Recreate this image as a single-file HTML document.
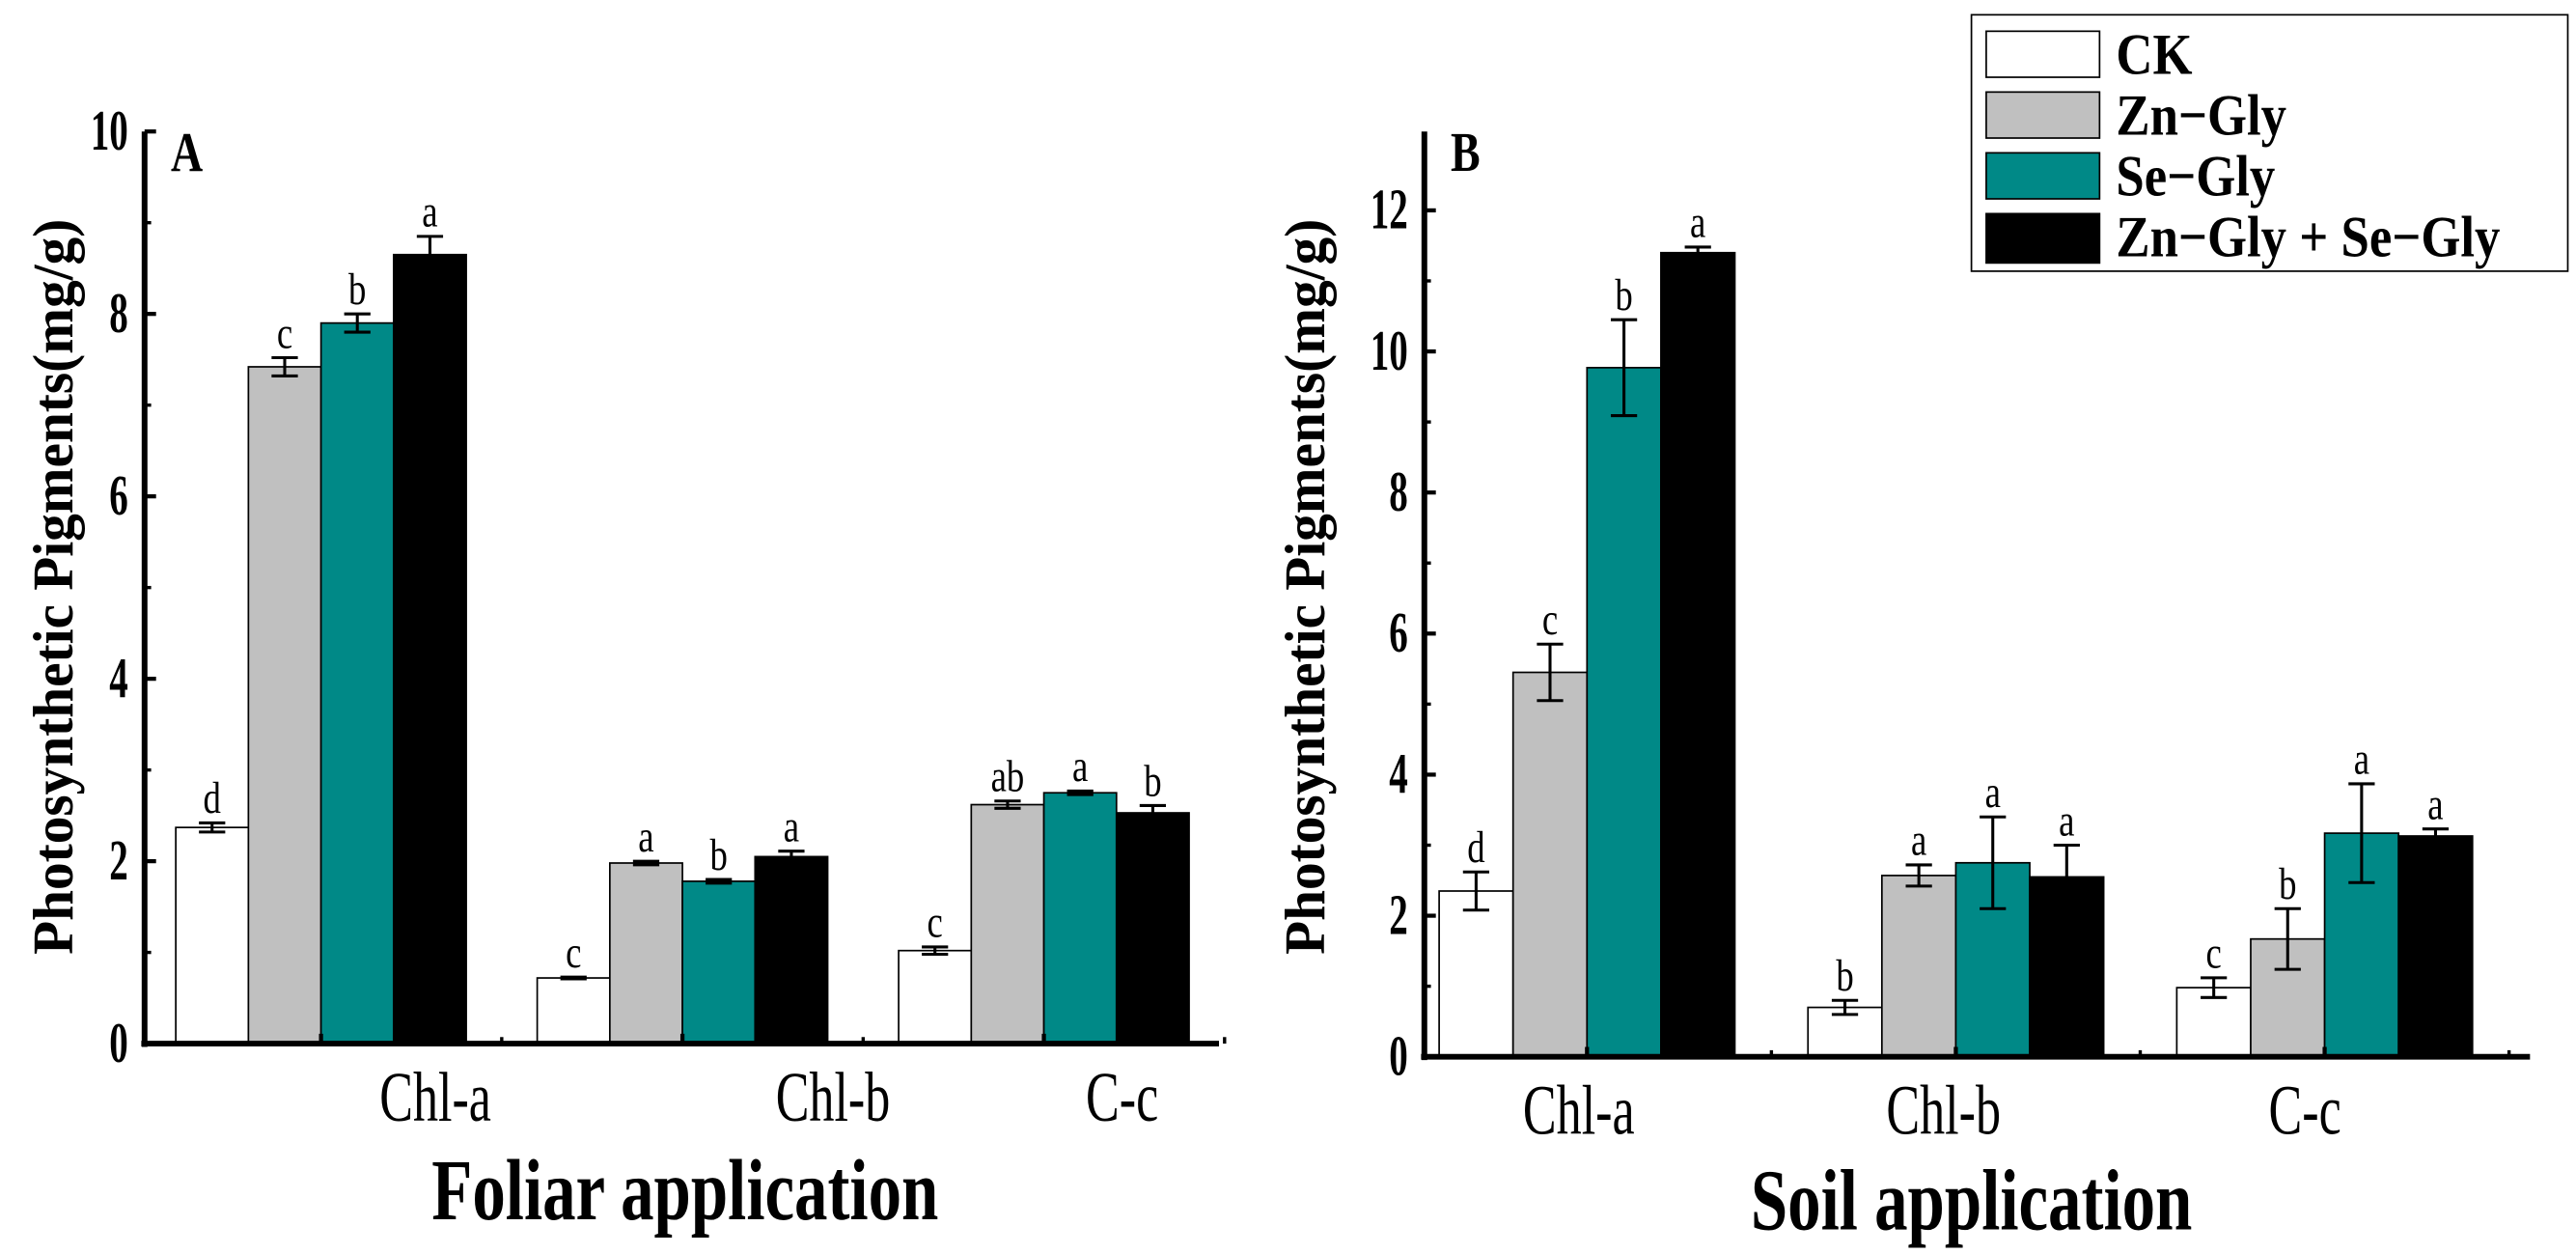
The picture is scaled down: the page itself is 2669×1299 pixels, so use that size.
<!DOCTYPE html>
<html><head><meta charset="utf-8"><style>
html,body{margin:0;padding:0;background:#fff;width:2669px;height:1299px;overflow:hidden}
svg{display:block}
text{font-family:"Liberation Serif",serif}
</style></head><body>
<svg id="chart" width="2669" height="1299" viewBox="0 0 1568 763" preserveAspectRatio="none" xmlns="http://www.w3.org/2000/svg"></svg>
<script>
const categories = ["Chl-a","Chl-b","C-c"];
const seriesNames = ["CK","Zn\u2212Gly","Se\u2212Gly","Zn\u2212Gly + Se\u2212Gly"];
const colors = ["#ffffff","#c0c0c0","#008987","#000000"];
const foliarValues = [[2.37,0.72,1.02],[7.42,1.98,2.62],[7.9,1.78,2.75],[8.65,2.05,2.53]];
const foliarErrors = [[0.05,0.01,0.04],[0.1,0.02,0.04],[0.1,0.02,0.02],[0.2,0.06,0.08]];
const foliarLetters = [["d","c","c"],["c","a","ab"],["b","b","a"],["a","a","b"]];
const soilValues = [[2.35,0.7,0.98],[5.45,2.57,1.67],[9.77,2.75,3.17],[11.4,2.55,3.13]];
const soilErrors = [[0.27,0.1,0.14],[0.4,0.15,0.43],[0.68,0.65,0.7],[0.08,0.45,0.1]];
const soilLetters = [["d","b","c"],["c","a","b"],["b","a","a"],["a","a","a"]];
const foliarTicks = [0,2,4,6,8,10];
const soilTicks = [0,2,4,6,8,10,12];

const NS="http://www.w3.org/2000/svg";
const svg=document.getElementById('chart');
function mk(tag,attrs,parent,txt){const e=document.createElementNS(NS,tag);for(const k in attrs)e.setAttribute(k,attrs[k]);if(txt!==undefined)e.textContent=txt;(parent||svg).appendChild(e);return e;}
// tall narrow text helper
function ttext(x,y,size,sx,sy,attrs,parent,txt){
  const a=Object.assign({transform:`translate(${x},${y}) scale(${sx},${sy})`,x:0,y:0,'font-size':size},attrs);
  return mk('text',a,parent,txt);
}

function panel(cfg){
  const g=mk('g',{});
  
  
  const y=v=>cfg.y0-(v-0)*(cfg.y0-cfg.yTop)/cfg.yMax;
  const x0=cfg.x0;
  for(let s=0;s<4;s++){
    for(let c=0;c<3;c++){
      const v=cfg.values[s][c], e=cfg.errors[s][c];
      const bx=cfg.gStart+c*cfg.gStep+s*cfg.bw;
      const r=mk('rect',{x:bx,y:y(v),width:cfg.bw,height:cfg.y0-y(v),fill:colors[s],stroke:'#000','stroke-width':1},g);
      
      
      const cx=bx+cfg.bw/2;
      const eg=mk('g',{stroke:'#000','stroke-width':1.8},g);
      
      
      mk('line',{x1:cx,x2:cx,y1:y(v+e),y2:y(v-e)},eg);
      mk('line',{x1:cx-8,x2:cx+8,y1:y(v+e),y2:y(v+e)},eg);
      mk('line',{x1:cx-8,x2:cx+8,y1:y(v-e),y2:y(v-e)},eg);
      const t=ttext(cx,y(v+e)-6,24,0.9,1.15,{'text-anchor':'middle'},g,cfg.letters[s][c]);
      
      
    }
  }
  const ya=mk('line',{x1:x0,x2:x0,y1:cfg.axisTop,y2:cfg.y0+2,stroke:'#000','stroke-width':3.5},g);
  
  
  const xa=mk('line',{x1:x0-2,x2:cfg.xEnd,y1:cfg.y0,y2:cfg.y0,stroke:'#000','stroke-width':3.5},g);
  
  
  cfg.ticks.forEach((t,i)=>{
    mk('line',{x1:x0,x2:x0+7,y1:y(t),y2:y(t),stroke:'#000','stroke-width':2.5},g);
    if(i<cfg.ticks.length-1) mk('line',{x1:x0,x2:x0+4,y1:y(t+1),y2:y(t+1),stroke:'#000','stroke-width':2},g);
    const tl=ttext(x0-10,y(t)+11,27,0.85,1.3,{'text-anchor':'end','font-weight':'bold'},g,String(t));
    
    
  });
  for(let c=0;c<3;c++){
    const gc=cfg.gStart+c*cfg.gStep+2*cfg.bw;
    mk('line',{x1:gc,x2:gc,y1:cfg.y0,y2:cfg.y0-6,stroke:'#000','stroke-width':2.5},g);
    mk('line',{x1:gc+cfg.gStep/2,x2:gc+cfg.gStep/2,y1:cfg.y0,y2:cfg.y0-4,stroke:'#000','stroke-width':2},g);
    const cl=ttext(cfg.labelX[c],cfg.y0+47,36,0.85,1.2,{'text-anchor':'middle'},g,categories[c]);
    
    
  }
  const pl=ttext(x0+16,cfg.axisTop+24,30,0.9,1.15,{'font-weight':'bold'},g,cfg.letter);
  
  
  const yt=mk('text',{transform:`translate(${cfg.ytX},${cfg.ytY}) rotate(-90) scale(1.02,1.05)`,'text-anchor':'middle','font-size':33,'font-weight':'bold'},g,'Photosynthetic Pigments(mg/g)');
  
  
  const xt=ttext(cfg.xtX,cfg.xtY,44,0.92,1.2,{'text-anchor':'middle','font-weight':'bold'},g,cfg.xTitle);
  
  
}

panel({name:'panel-a-foliar',key:'a',letter:'A',values:foliarValues,errors:foliarErrors,letters:foliarLetters,ticks:foliarTicks,
  x0:88,y0:635,yTop:80,yMax:10,axisTop:80,xEnd:742,gStart:107,gStep:220,bw:44.2,labelX:[265,507,683],
  ytX:44,ytY:357,xTitle:'Foliar application',xtX:417,xtY:742});
panel({name:'panel-b-soil',key:'b',letter:'B',values:soilValues,errors:soilErrors,letters:soilLetters,ticks:soilTicks,
  x0:867,y0:643,yTop:128,yMax:12,axisTop:80,xEnd:1540,gStart:876,gStep:224.5,bw:45,labelX:[961,1183,1403],
  ytX:806,ytY:357,xTitle:'Soil application',xtX:1200,xtY:748});

const lg=mk('g',{});


mk('rect',{x:1200,y:9,width:363,height:156,fill:'#fff',stroke:'#000','stroke-width':1},lg);
const rowsY=[19,56,93,130];
seriesNames.forEach((n,i)=>{
  const e=mk('g',{},lg);
  
  
  mk('rect',{x:1209,y:rowsY[i],width:69,height:i==3?30:28,fill:colors[i],stroke:'#000','stroke-width':1},e);
  ttext(1288,rowsY[i]+26,31,1.0,1.15,{'font-weight':'bold'},e,n);
});
</script>
</body></html>
